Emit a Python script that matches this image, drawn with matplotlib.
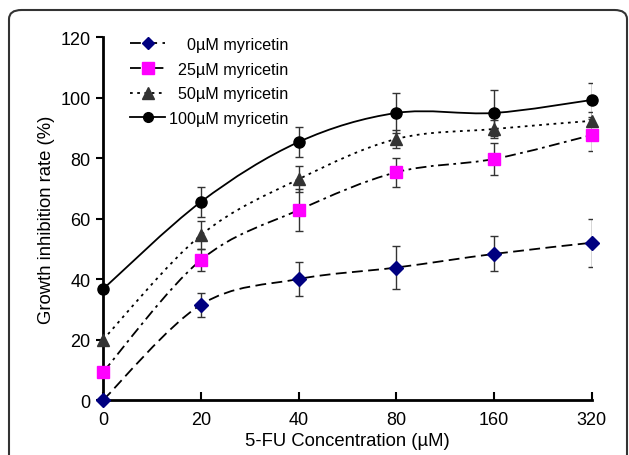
import matplotlib.pyplot as plt
import numpy as np
from matplotlib.path import Path
from matplotlib.patches import PathPatch, FancyBboxPatch
from matplotlib.lines import Line2D

plt.rcParams['font.family'] = ['Liberation Sans', 'DejaVu Sans']

concentrations = ['0', '20', '40', '80', '160', '320']
labels = ['\u2007\u20070\u00b5M myricetin', '\u200725\u00b5M myricetin',
          '\u200750\u00b5M myricetin', '100\u00b5M myricetin']

vals_0 = [0, 31.5, 40, 43.8, 48.3, 52]
err_0 = [0, 4, 5.7, 7, 5.8, 8]
vals_25 = [9.3, 46.3, 62.8, 75.3, 79.7, 87.6]
err_25 = [0, 3.5, 7, 4.8, 5.3, 5.3]
vals_50 = [20, 54.5, 73, 86.3, 89.6, 92.3]
err_50 = [0, 4.6, 4.3, 3, 3, 3]
vals_100 = [36.7, 65.5, 85.3, 94.9, 94.9, 99.2]
err_100 = [0, 5, 4.8, 6.5, 7.5, 5.6]

series = [vals_0, vals_25, vals_50, vals_100]
errors = [err_0, err_25, err_50, err_100]
markers = ['D', 's', '^', 'o']
msizes = [7, 9, 9, 8]
mcolors = ['#000080', '#ff00ff', '#333333', '#000000']
dashes = [(6, 3), (6, 2.5, 1.5, 2.5), (1.5, 2.5), None]


def smooth_path(xs, ys):
    # Excel-style smoothed line: Catmull-Rom segments as cubic Beziers
    pts = np.column_stack([xs, ys]).astype(float)
    ext = np.vstack([pts[0], pts, pts[-1]])
    verts = [pts[0]]
    codes = [Path.MOVETO]
    for i in range(len(pts) - 1):
        p0, p1, p2, p3 = ext[i], ext[i + 1], ext[i + 2], ext[i + 3]
        c1 = p1 + (p2 - p0) / 6
        c2 = p2 - (p3 - p1) / 6
        verts += [c1, c2, p2]
        codes += [Path.CURVE4] * 3
    return Path(verts, codes)


fig = plt.figure(figsize=(6.29, 4.56), dpi=100)
ax = fig.add_axes([0.164, 0.1206, 0.777, 0.796])

x = np.arange(len(concentrations))
handles = []
for vals, errs, m, ms, mc, ds in zip(series, errors, markers, msizes, mcolors, dashes):
    patch = PathPatch(smooth_path(x, vals), fill=False, edgecolor='black',
                      linewidth=1.3, zorder=2)
    if ds is not None:
        patch.set_linestyle((0, ds))
    ax.add_patch(patch)
    ax.errorbar(x[1:], vals[1:], yerr=errs[1:], fmt='none', ecolor='#333333',
                elinewidth=1, capsize=3, capthick=1, zorder=3)
    ax.plot(x, vals, linestyle='none', marker=m, markersize=ms, color=mc,
            markeredgecolor=mc, zorder=5, clip_on=False)
    h = Line2D([], [], color='black', linewidth=1.3, marker=m, markersize=ms - 1,
               markerfacecolor=mc, markeredgecolor=mc)
    if ds is not None:
        h.set_dashes(ds)
    handles.append(h)

ax.set_xlim(0, 5)
ax.set_ylim(0, 120)
ax.set_xticks(x)
ax.set_xticklabels(concentrations)
ax.set_yticks(range(0, 121, 20))
for s in ['top', 'right']:
    ax.spines[s].set_visible(False)
for s in ['left', 'bottom']:
    ax.spines[s].set_linewidth(2)
ax.tick_params(axis='y', direction='out', length=5, width=1.5, labelsize=13, pad=4)
ax.tick_params(axis='x', direction='in', length=6, width=1.5, labelsize=13, pad=8)
ax.set_ylabel('Growth inhibition rate (%)', fontsize=13.3, labelpad=4)
ax.set_xlabel('5-FU Concentration (\u00b5M)', fontsize=13.3, labelpad=3)

ax.legend(handles, labels, loc='upper left', bbox_to_anchor=(0.025, 1.04),
          frameon=False, fontsize=11.6, handlelength=2.2, handletextpad=0.2,
          labelspacing=0.6)

frame = FancyBboxPatch((9 / 629, -20 / 456), 618 / 629, 465 / 456,
                       boxstyle='round,pad=0,rounding_size=0.02',
                       transform=fig.transFigure, fill=False,
                       edgecolor='#333333', linewidth=1.5)
fig.patches.append(frame)

fig.savefig('out.png', dpi=100)
